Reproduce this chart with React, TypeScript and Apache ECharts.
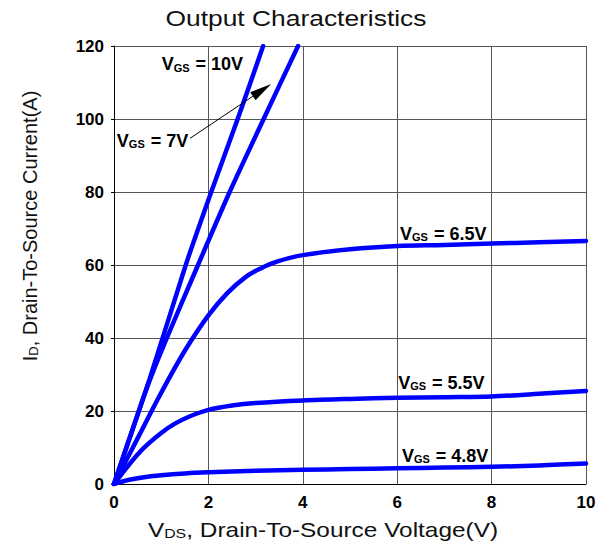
import React, { useEffect, useRef } from "react";
import * as echarts from "echarts";

const titleText = "Output Characteristics";
const xAxisName = ["V", "DS", ", Drain-To-Source Voltage(V)"];
const yAxisName = ["I", "D", ", Drain-To-Source Current(A)"];

const xMin = 0;
const xMax = 10;
const xStep = 2;
const yMin = 0;
const yMax = 120;
const yStep = 20;

// VGS = 10V
const vds10 = [0, 0.76, 1.52, 2.06, 2.62, 3.16];
const id10 = [0, 29, 60, 80, 100, 120];
// VGS = 7V
const vds7 = [0, 0.5, 0.76, 1.12, 1.78, 2.45, 3.17, 3.9];
const id7 = [0, 19, 28.5, 40, 60, 80, 100, 120];
// VGS = 6.5V
const vds65 = [0, 0.5, 1, 1.5, 2, 2.4, 2.8, 3.1, 3.45, 4, 5, 6, 7, 8, 9, 10];
const id65 = [0, 12.5, 25, 36.5, 46.2, 52.3, 56.8, 59.0, 60.9, 62.7, 64.3, 65.2, 65.5, 65.9, 66.2, 66.6];
// VGS = 5.5V
const vds55 = [0, 0.3, 0.6, 1, 1.3, 1.6, 2, 2.5, 3, 4, 5, 6, 7, 8, 9, 10];
const id55 = [0, 5, 9.5, 14, 16.6, 18.5, 20.3, 21.5, 22.2, 22.9, 23.3, 23.6, 23.8, 24.0, 24.7, 25.5];
// VGS = 4.8V
const vds48 = [0, 0.3, 0.6, 1, 1.5, 2, 3, 4, 5, 6, 7, 8, 9, 10];
const id48 = [0, 1.1, 1.8, 2.4, 2.9, 3.2, 3.6, 3.9, 4.1, 4.3, 4.5, 4.7, 5.1, 5.6];

const curveNames = ["VGS = 10V", "VGS = 7V", "VGS = 6.5V", "VGS = 5.5V", "VGS = 4.8V"];
const curveX = [vds10, vds7, vds65, vds55, vds48];
const curveY = [id10, id7, id65, id55, id48];
const curveSmooth = [0.2, 0.25, 0.35, 0.3, 0.3];

// annotation labels (data coordinates: left edge, vertical centre)
const labelValues = ["10V", "7V", "6.5V", "5.5V", "4.8V"];
const labelX = [1.01, 0.06, 6.06, 6.02, 6.1];
const labelY = [115, 94, 68.5, 27.7, 7.7];
// arrow from the 7V label to its curve
const arrowFrom = [1.61, 94.7];
const arrowTo = [3.33, 109.6];

const FONT = "'Liberation Sans', Arial, Helvetica, sans-serif";
const BLUE = "#0000ff";

export default function App() {
  const ref = useRef<HTMLDivElement>(null);

  useEffect(() => {
    if (!ref.current) return;
    const chart = echarts.init(ref.current, undefined, { renderer: "svg" });

    const series = curveNames.map((name, i) => ({
      name,
      type: "line",
      data: curveX[i].map((x, j) => [x, curveY[i][j]]),
      showSymbol: false,
      symbol: "none",
      smooth: curveSmooth[i],
      clip: true,
      lineStyle: { color: BLUE, width: 4.5, cap: "round", join: "round" },
      z: 5,
    }));

    chart.setOption({
      animation: false,
      backgroundColor: "#ffffff",
      grid: { left: 114, right: 16, top: 46, bottom: 63, containLabel: false },
      xAxis: {
        type: "value",
        min: xMin,
        max: xMax,
        interval: xStep,
        axisLine: { show: true, onZero: false, lineStyle: { color: "#000", width: 1 } },
        axisTick: { show: false },
        axisLabel: {
          color: "#000",
          fontSize: 17,
          fontWeight: "bold",
          fontFamily: FONT,
          margin: 10,
        },
        splitLine: { show: true, lineStyle: { color: "#555", width: 1 } },
      },
      yAxis: {
        type: "value",
        min: yMin,
        max: yMax,
        interval: yStep,
        axisLine: { show: true, onZero: false, lineStyle: { color: "#000", width: 1 } },
        axisTick: { show: true, length: 3, lineStyle: { color: "#000" } },
        axisLabel: {
          color: "#000",
          fontSize: 17,
          fontWeight: "bold",
          fontFamily: FONT,
          margin: 10,
        },
        splitLine: { show: true, lineStyle: { color: "#555", width: 1 } },
      },
      series,
    });

    const px = (p: number[]) => chart.convertToPixel({ gridIndex: 0 }, p) as number[];

    const labelGraphics = labelValues.map((v, i) => {
      const p = px([labelX[i], labelY[i]]);
      return {
        type: "text",
        x: p[0],
        y: p[1],
        z: 10,
        style: {
          text: `{v|V}{s|GS}{v| = ${v}}`,
          align: "left",
          verticalAlign: "middle",
          fill: "#000",
          rich: {
            v: { fontSize: 18, fontWeight: "bold", fontFamily: FONT, fill: "#000" },
            s: { fontSize: 11, fontWeight: "bold", fontFamily: FONT, fill: "#000", verticalAlign: "bottom", padding: [0, 1, 0, 0] },
          },
        },
      };
    });

    const a0 = px(arrowFrom);
    const a1 = px(arrowTo);
    const dx = a1[0] - a0[0];
    const dy = a1[1] - a0[1];
    const len = Math.sqrt(dx * dx + dy * dy);
    const ux = dx / len;
    const uy = dy / len;
    const headLen = 22;
    const headHalf = 4.8;
    const bx = a1[0] - ux * headLen;
    const by = a1[1] - uy * headLen;

    chart.setOption({
      graphic: [
        {
          type: "text",
          x: 296,
          y: 18,
          scaleX: 1.2,
          style: {
            text: titleText,
            align: "center",
            verticalAlign: "middle",
            fontSize: 22,
            fontFamily: FONT,
            fill: "#111",
          },
        },
        {
          type: "text",
          x: 323,
          y: 530,
          scaleX: 1.22,
          style: {
            text: `{n|${xAxisName[0]}}{s|${xAxisName[1]}}{n|${xAxisName[2]}}`,
            align: "center",
            verticalAlign: "middle",
            fill: "#111",
            rich: {
              n: { fontSize: 20, fontFamily: FONT, fill: "#111" },
              s: { fontSize: 13, fontFamily: FONT, fill: "#111", verticalAlign: "bottom" },
            },
          },
        },
        {
          type: "text",
          x: 30,
          y: 226,
          rotation: Math.PI / 2,
          style: {
            text: `{n|${yAxisName[0]}}{s|${yAxisName[1]}}{n|${yAxisName[2]}}`,
            align: "center",
            verticalAlign: "middle",
            fill: "#111",
            rich: {
              n: { fontSize: 20, fontFamily: FONT, fill: "#111" },
              s: { fontSize: 13, fontFamily: FONT, fill: "#111", verticalAlign: "bottom" },
            },
          },
        },
        ...labelGraphics,
        {
          type: "line",
          z: 10,
          shape: { x1: a0[0], y1: a0[1], x2: bx, y2: by },
          style: { stroke: "#000", lineWidth: 1 },
        },
        {
          type: "polygon",
          z: 10,
          shape: {
            points: [
              [a1[0], a1[1]],
              [bx - uy * headHalf, by + ux * headHalf],
              [bx + uy * headHalf, by - ux * headHalf],
            ],
          },
          style: { fill: "#000" },
        },
      ],
    });

    return () => chart.dispose();
  }, []);

  return (
    <div
      ref={ref}
      style={{ position: "fixed", left: 0, top: 0, width: 602, height: 547, background: "#fff" }}
    />
  );
}
